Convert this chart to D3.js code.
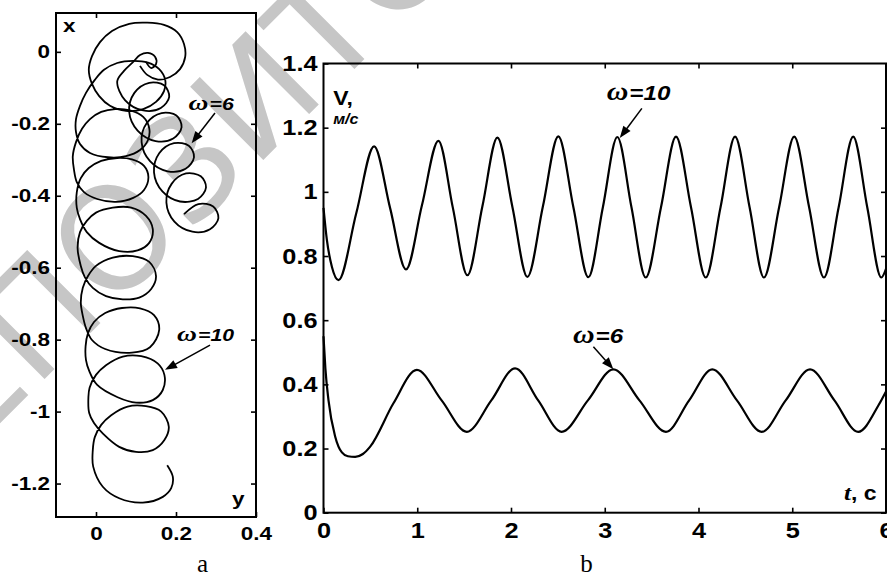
<!DOCTYPE html>
<html>
<head>
<meta charset="utf-8">
<script src="https://cdn.jsdelivr.net/npm/d3@7"></script>
<style>
  html, body { margin: 0; padding: 0; background: #fff; }
  svg { display: block; }
</style>
</head>
<body>
<svg id="chart" width="887" height="576"></svg>
<script>
// ---- panel a: trajectory, pairs of [y, x] (horizontal y, vertical x) ----
const trajW10 = [
  [0.110,-0.039],[0.128,-0.064],[0.155,-0.077],[0.185,-0.070],[0.210,-0.048],[0.223,-0.014],
  [0.220,0.022],[0.203,0.055],[0.170,0.075],[0.128,0.081],[0.083,0.078],[0.040,0.058],
  [0.010,0.027],[-0.010,-0.012],[-0.018,-0.050],
  [-0.010,-0.089],[0.008,-0.123],[0.035,-0.150],[0.075,-0.164],[0.118,-0.159],[0.150,-0.139],
  [0.170,-0.109],[0.173,-0.078],[0.158,-0.048],[0.130,-0.030],[0.093,-0.025],[0.053,-0.031],
  [0.020,-0.050],[-0.003,-0.078],[-0.025,-0.114],[-0.040,-0.150],[-0.050,-0.187],[-0.050,-0.223],
  [-0.040,-0.256],[-0.015,-0.281],[0.030,-0.293],[0.075,-0.290],[0.110,-0.273],[0.130,-0.245],
  [0.133,-0.212],[0.118,-0.181],[0.085,-0.163],[0.048,-0.159],[0.013,-0.167],[-0.015,-0.187],
  [-0.035,-0.214],[-0.050,-0.251],[-0.058,-0.290],[-0.055,-0.328],
  [-0.048,-0.362],[-0.030,-0.390],[0.003,-0.409],[0.050,-0.417],[0.093,-0.406],[0.120,-0.384],
  [0.131,-0.348],[0.120,-0.317],[0.090,-0.299],[0.053,-0.295],[0.013,-0.303],[-0.018,-0.323],
  [-0.038,-0.351],[-0.048,-0.390],[-0.048,-0.434],
  [-0.040,-0.465],[-0.023,-0.501],[0.008,-0.531],[0.058,-0.554],[0.104,-0.552],[0.133,-0.531],
  [0.142,-0.493],[0.125,-0.456],[0.088,-0.433],[0.042,-0.433],[0.000,-0.447],[-0.023,-0.470],
  [-0.040,-0.501],[-0.046,-0.545],[-0.038,-0.595],
  [-0.028,-0.626],[-0.008,-0.656],[0.025,-0.679],[0.067,-0.688],[0.108,-0.683],[0.138,-0.659],
  [0.150,-0.623],[0.133,-0.584],[0.092,-0.568],[0.042,-0.572],[0.000,-0.595],[-0.020,-0.623],
  [-0.033,-0.656],[-0.038,-0.697],[-0.033,-0.734],
  [-0.025,-0.768],[-0.010,-0.801],[0.023,-0.826],[0.090,-0.836],[0.135,-0.821],[0.158,-0.773],
  [0.145,-0.732],[0.110,-0.713],[0.065,-0.712],[0.023,-0.726],[-0.005,-0.751],[-0.020,-0.782],
  [-0.026,-0.818],[-0.025,-0.857],
  [-0.017,-0.887],[0.003,-0.926],[0.054,-0.960],[0.100,-0.975],[0.142,-0.968],[0.167,-0.940],
  [0.171,-0.898],[0.154,-0.866],[0.113,-0.846],[0.067,-0.847],[0.025,-0.871],[0.000,-0.898],
  [-0.016,-0.934],[-0.019,-0.960],[-0.017,-1.004],
  [-0.005,-1.032],[0.018,-1.062],[0.058,-1.098],[0.100,-1.112],[0.142,-1.107],[0.171,-1.079],
  [0.182,-1.042],[0.163,-1.000],[0.125,-0.985],[0.079,-0.986],[0.038,-1.010],[0.013,-1.037],
  [-0.003,-1.071],[-0.008,-1.107],
  [-0.007,-1.153],[0.017,-1.209],[0.058,-1.241],[0.117,-1.253],[0.167,-1.237],[0.188,-1.213],
  [0.192,-1.181],[0.178,-1.149]
];
const trajW6 = [
  [0.125,-0.028],[0.138,-0.045],[0.150,-0.034],[0.148,-0.014],[0.130,-0.003],[0.110,-0.009],
  [0.093,-0.028],[0.070,-0.053],
  [0.053,-0.082],[0.073,-0.135],[0.118,-0.163],[0.162,-0.156],[0.183,-0.125],[0.170,-0.093],
  [0.133,-0.086],[0.096,-0.114],
  [0.083,-0.167],[0.104,-0.219],[0.149,-0.248],[0.193,-0.241],[0.214,-0.209],[0.201,-0.177],
  [0.164,-0.170],[0.127,-0.198],
  [0.114,-0.251],[0.135,-0.304],[0.179,-0.332],[0.224,-0.325],[0.245,-0.293],[0.232,-0.261],
  [0.195,-0.254],[0.158,-0.282],
  [0.145,-0.335],[0.166,-0.388],[0.210,-0.416],[0.255,-0.409],[0.275,-0.377],[0.262,-0.346],
  [0.225,-0.338],[0.189,-0.367],
  [0.176,-0.419],[0.196,-0.472],[0.241,-0.500],[0.285,-0.493],[0.306,-0.462],[0.293,-0.430],
  [0.256,-0.423],[0.220,-0.451]
];
const trajHTicks = [0, 0.2, 0.4];
const trajVTicks = [-1.2, -1, -0.8, -0.6, -0.4, -0.2, 0];

// ---- panel b: speed V (m/s) against time t (s) ----
const timeW10 = [0, 0.036, 0.09, 0.16, 0.35, 0.54, 0.71, 0.88, 1.05, 1.226, 1.38, 1.535, 1.695, 1.855,
  2.015, 2.175, 2.34, 2.505, 2.665, 2.825, 2.98, 3.134, 3.285, 3.437, 3.6, 3.76, 3.92, 4.077, 4.235,
  4.39, 4.545, 4.698, 4.86, 5.021, 5.18, 5.338, 5.495, 5.65, 5.80, 5.95, 6.0];
const speedW10 = [0.95, 0.85, 0.766, 0.725, 0.934, 1.142, 0.95, 0.758, 0.958, 1.159, 0.95, 0.740, 0.955, 1.169,
  0.953, 0.735, 0.954, 1.173, 0.953, 0.734, 0.952, 1.171, 0.952, 0.733, 0.952, 1.172, 0.952, 0.733, 0.952,
  1.172, 0.952, 0.733, 0.952, 1.172, 0.952, 0.733, 0.952, 1.172, 0.952, 0.733, 0.76];
const timeW6 = [0, 0.02, 0.053, 0.125, 0.196, 0.26, 0.338, 0.42, 0.498, 0.746, 0.996, 1.26, 1.529, 1.79,
  2.044, 2.29, 2.54, 2.82, 3.092, 3.37, 3.653, 3.90, 4.147, 4.41, 4.674, 4.93, 5.19, 5.45, 5.704, 5.92, 6.0];
const speedW6 = [0.55, 0.45, 0.351, 0.237, 0.188, 0.176, 0.174, 0.183, 0.206, 0.341, 0.445, 0.35, 0.252, 0.35,
  0.45, 0.35, 0.252, 0.35, 0.447, 0.35, 0.252, 0.35, 0.447, 0.35, 0.252, 0.35, 0.447, 0.35, 0.252, 0.335, 0.378];
const timeTicks = [0, 1, 2, 3, 4, 5, 6];
const speedTicks = [0, 0.2, 0.4, 0.6, 0.8, 1, 1.2, 1.4];

// annotation anchors (data units): label corner, arrow tail, arrow tip
const notesA = [
  { num: '6', at: [0.231, -0.162], from: [0.2975, -0.170], to: [0.239, -0.254] },
  { num: '10', at: [0.2025, -0.804], from: [0.285, -0.815], to: [0.1725, -0.884] },
];
const notesB = [
  { num: '10', at: [3.02, 1.286], from: [3.396, 1.26], to: [3.16, 1.168] },
  { num: '6', at: [2.66, 0.53], from: [2.879, 0.517], to: [3.092, 0.447] },
];

const svg = d3.select('#chart');
const SANS = 'Liberation Sans, Arial, sans-serif';
const SERIF = 'Liberation Serif, Times New Roman, serif';

// watermark behind everything, rotated -45deg, first "О" centred at (113,237)
const wmSize = 142;
const wm = svg.append('text').text('РЕПОЗИТОРИЙ')
  .attr('font-family', 'DejaVu Sans').attr('font-size', wmSize).attr('fill', '#c6c6c6');
{
  const n = wm.node();
  const cx = n.getStartPositionOfChar(3).x + n.getSubStringLength(3, 1) / 2;
  const cy = -0.365 * wmSize;
  wm.attr('transform', `translate(113,237) rotate(-45) translate(${-cx},${-cy})`);
}

// squeeze text horizontally like the (non-uniformly resized) original
function stretch(sel, k) {
  sel.each(function () {
    const t = d3.select(this);
    const x = +t.attr('x') || 0, y = +t.attr('y') || 0;
    t.attr('x', 0).attr('y', 0).attr('transform', `translate(${x},${y}) scale(${k},1)`);
  });
}

function styleAxis(g, size, k) {
  g.select('.domain').remove();
  g.selectAll('.tick line').attr('stroke', '#000').attr('stroke-width', 1.6);
  g.attr('font-family', SANS).attr('font-size', size).attr('font-weight', 'bold');
  g.selectAll('.tick text').attr('fill', '#000');
  stretch(g.selectAll('.tick text'), k);
}

function frame(g, x, y) {
  const [x0, x1] = x.range(), [y0, y1] = y.range();
  g.append('rect').attr('x', x0).attr('y', y1).attr('width', x1 - x0).attr('height', y0 - y1)
    .attr('fill', 'none').attr('stroke', '#000').attr('stroke-width', 2);
}

function axes(g, x, y, xt, yt, size, k, padX, xTop) {
  const fmt = (d) => String(d);
  const [x0, x1] = x.range(), [y0, y1] = y.range();
  g.append('g').attr('transform', `translate(${x0},0)`)
    .call(d3.axisLeft(y).tickValues(yt).tickSizeInner(-5).tickSizeOuter(0).tickPadding(6).tickFormat(fmt))
    .call((s) => styleAxis(s, size, k));
  g.append('g').attr('transform', `translate(${x1},0)`)
    .call(d3.axisRight(y).tickValues(yt.slice(0, -1)).tickSizeInner(-5).tickSizeOuter(0).tickFormat(''))
    .call((s) => styleAxis(s, size, k));
  g.append('g').attr('transform', `translate(0,${y0})`)
    .call(d3.axisBottom(x).tickValues(xt).tickSizeInner(-5).tickSizeOuter(0).tickPadding(padX).tickFormat(fmt))
    .call((s) => styleAxis(s, size, k));
  g.append('g').attr('transform', `translate(0,${y1})`)
    .call(d3.axisTop(x).tickValues(xTop).tickSizeInner(-5).tickSizeOuter(0).tickFormat(''))
    .call((s) => styleAxis(s, size, k));
}

function arrow(g, x1, y1, x2, y2) {
  const dx = x2 - x1, dy = y2 - y1, L = Math.hypot(dx, dy), ux = dx / L, uy = dy / L;
  const len = 12, half = 4.5;
  const bx = x2 - ux * len, by = y2 - uy * len;
  g.append('line').attr('x1', x1).attr('y1', y1).attr('x2', bx + ux * 2).attr('y2', by + uy * 2)
    .attr('stroke', '#000').attr('stroke-width', 1.5);
  g.append('path')
    .attr('d', `M${x2},${y2}L${bx - uy * half},${by + ux * half}L${bx + uy * half},${by - ux * half}Z`)
    .attr('fill', '#000');
}

function omega(g, x, y, num, wSize, nSize, k) {
  const t = g.append('text').attr('transform', `translate(${x},${y}) scale(${k},1)`).attr('fill', '#000');
  t.append('tspan').attr('font-family', SERIF).attr('font-style', 'italic').attr('font-weight', 'bold')
    .attr('font-size', wSize).text('ω');
  t.append('tspan').attr('font-family', SANS).attr('font-style', 'italic').attr('font-weight', 'bold')
    .attr('font-size', nSize).attr('dx', 1).text('=' + num);
}

// ---------------- panel a ----------------
const KA = 1.25;
const ax = d3.scaleLinear().domain([-0.1, 0.4]).range([56, 256]);
const ay = d3.scaleLinear().domain([-1.293, 0.108]).range([517, 13]);
const ga = svg.append('g');

const lineA = d3.line().x((d) => ax(d[0])).y((d) => ay(d[1])).curve(d3.curveCatmullRom.alpha(0.5));
ga.append('path').attr('d', lineA(trajW10)).attr('fill', 'none').attr('stroke', '#000').attr('stroke-width', 1.8);
ga.append('path').attr('d', lineA(trajW6)).attr('fill', 'none').attr('stroke', '#000').attr('stroke-width', 1.8);

frame(ga, ax, ay);
axes(ga, ax, ay, trajHTicks, trajVTicks, 18, KA, 10, [0, 0.2]);

for (const n of notesA) {
  omega(ga, ax(n.at[0]), ay(n.at[1]), n.num, 22, 17, KA);
  arrow(ga, ax(n.from[0]), ay(n.from[1]), ax(n.to[0]), ay(n.to[1]));
}
stretch(ga.append('text').attr('x', ax(-0.0825)).attr('y', ay(0.056)).text('x')
  .attr('font-family', SANS).attr('font-size', 18).attr('font-weight', 'bold'), KA);
stretch(ga.append('text').attr('x', ax(0.34)).attr('y', ay(-1.261)).text('y')
  .attr('font-family', SANS).attr('font-size', 18).attr('font-weight', 'bold'), KA);

// ---------------- panel b ----------------
const KB = 1.15;
const bx = d3.scaleLinear().domain([0, 6]).range([323.5, 886]);
const by = d3.scaleLinear().domain([0, 1.4]).range([512.7, 63.5]);
const gb = svg.append('g');

const lineB = d3.line().x((d) => bx(d[0])).y((d) => by(d[1])).curve(d3.curveMonotoneX);
gb.append('path').attr('d', lineB(d3.zip(timeW10, speedW10)))
  .attr('fill', 'none').attr('stroke', '#000').attr('stroke-width', 2.2);
gb.append('path').attr('d', lineB(d3.zip(timeW6, speedW6)))
  .attr('fill', 'none').attr('stroke', '#000').attr('stroke-width', 2.2);

frame(gb, bx, by);
axes(gb, bx, by, timeTicks, speedTicks, 22, KB, 10, timeTicks.slice(1, -1));

for (const n of notesB) {
  omega(gb, bx(n.at[0]), by(n.at[1]), n.num, 26, 21, KB);
  arrow(gb, bx(n.from[0]), by(n.from[1]), bx(n.to[0]), by(n.to[1]));
}
// axis name "V," with units on the line below
stretch(gb.append('text').attr('x', bx(0.103)).attr('y', by(1.272)).text('V,')
  .attr('font-family', SANS).attr('font-size', 20).attr('font-weight', 'bold'), KB);
stretch(gb.append('text').attr('x', bx(0.103)).attr('y', by(1.213)).text('м/с')
  .attr('font-family', SANS).attr('font-size', 14).attr('font-weight', 'bold').attr('font-style', 'italic'), KB);
{
  const t = gb.append('text').attr('transform', `translate(${bx(5.90)},${by(0.04)}) scale(${KB},1)`)
    .attr('text-anchor', 'end').attr('font-weight', 'bold');
  t.append('tspan').attr('font-family', SERIF).attr('font-style', 'italic').attr('font-size', 22).text('t');
  t.append('tspan').attr('font-family', SANS).attr('font-size', 20).text(', c');
}

// panel letters
svg.append('text').attr('x', 202.5).attr('y', 572).attr('text-anchor', 'middle')
  .attr('font-family', SERIF).attr('font-size', 25).text('a');
svg.append('text').attr('x', 586.5).attr('y', 572).attr('text-anchor', 'middle')
  .attr('font-family', SERIF).attr('font-size', 25).text('b');
</script>
</body>
</html>
